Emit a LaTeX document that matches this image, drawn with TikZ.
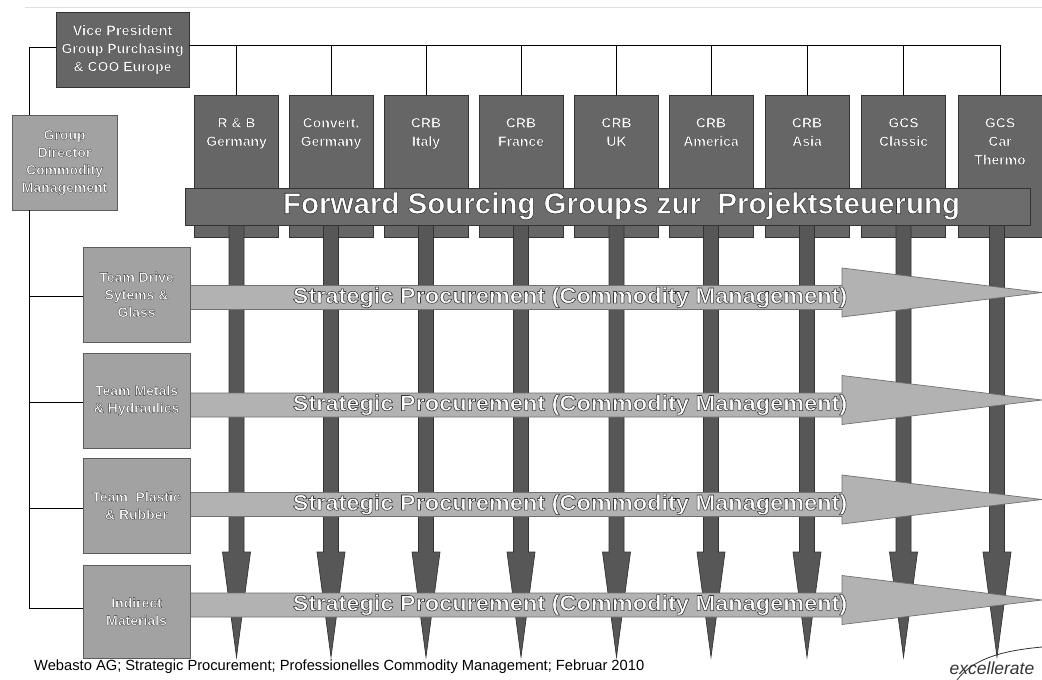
\documentclass[tikz,border=0pt]{standalone}
\usepackage{fontspec}
\setmainfont{Liberation Sans}
\definecolor{darkbox}{HTML}{666666}
\definecolor{lightbox}{HTML}{A2A2A2}
\definecolor{bandc}{HTML}{6C6C6C}
\definecolor{harrowc}{HTML}{B2B2B2}
\definecolor{varrowc}{HTML}{575757}
\definecolor{edgec}{HTML}{333333}
% outlined white text: fill + stroke render mode
\newcommand{\ol}[1]{{\special{pdf:literal direct 2 Tr 0.3 w 0.2 G}#1\special{pdf:literal direct 0 Tr}}}
\newcommand{\olb}[1]{{\special{pdf:literal direct 2 Tr 0.55 w 0.2 G}#1\special{pdf:literal direct 0 Tr}}}
\tikzset{
  dbox/.style={draw=edgec, line width=0.8pt, fill=darkbox, text=white, font=\bfseries\fontsize{14}{18}\selectfont, align=center, inner sep=0pt},
  lbox/.style={draw=edgec!80, line width=0.8pt, fill=lightbox, text=white, font=\bfseries\fontsize{14}{17.5}\selectfont, align=center, inner sep=0pt},
  coltext/.style={text=white, font=\bfseries\fontsize{14}{18.5}\selectfont, align=center, inner sep=0pt},
  conn/.style={draw=black, line width=0.9pt},
  varrow/.style={fill=varrowc, draw=edgec, line width=0.7pt},
  harrow/.style={fill=harrowc, draw=edgec!70, line width=0.7pt},
}
\begin{document}
\begin{tikzpicture}[x=1pt,y=-1pt]
\useasboundingbox (0,0) rectangle (1042,680);
\fill[white] (0,0) rectangle (1042,680);
% faint header line
\draw[black!12, line width=0.8pt] (25,7) -- (1042,7);

% top nodes
\node[dbox, minimum width=133pt, minimum height=75pt] (vp) at (122.5,49.5)
  {\fontsize{14.5}{20}\selectfont\ol{Vice President}\\\ol{Group Purchasing}\\\ol{\& COO Europe}};
\node[lbox, minimum width=105pt, minimum height=95pt] (gd) at (64.5,162.5)
  {\ol{Group}\\\ol{Director}\\\ol{Commodity}\\\ol{Management}};

\coordinate (spine) at (29,0);
\coordinate (bus) at (0,45);

% column boxes
\foreach \i/\x/\t in {
  1/236.5/{\ol{R \& B}\\\ol{Germany}},
  2/331/{\ol{Convert.}\\\ol{Germany}},
  3/426/{\ol{CRB}\\\ol{Italy}},
  4/521/{\ol{CRB}\\\ol{France}},
  5/616.5/{\ol{CRB}\\\ol{UK}},
  6/711/{\ol{CRB}\\\ol{America}},
  7/807/{\ol{CRB}\\\ol{Asia}},
  8/903.5/{\ol{GCS}\\\ol{Classic}},
  9/1000/{\ol{GCS}\\\ol{Car}\\\ol{Thermo}}}{
  \node[dbox, minimum width=84pt, minimum height=142pt] (c\i) at (\x,166) {};
  \node[coltext, anchor=north] (c\i t) at ([yshift=-23pt]c\i.north) {\t};
}

% connectors
\draw[conn] (vp.west |- 0,47) -| (gd.north -| spine);
\draw[conn] (gd.south -| spine) -- (spine |- 0,608);
\draw[conn] (vp.east |- bus) -| (c9.north);
\foreach \i in {1,...,8}{
  \draw[conn] (c\i.north) -- (c\i.north |- bus);
}

% vertical arrows
\foreach \x in {236.5,331,426,521,616.5,711,807,903.5,997}{
  \draw[varrow] (\x-7.5,222) -- (\x+7.5,222) -- (\x+7.5,552) -- (\x+14,552)
     -- (\x,657) -- (\x-14,552) -- (\x-7.5,552) -- cycle;
}

% band
\node[draw=edgec, line width=0.8pt, fill=bandc, minimum width=845pt, minimum height=37pt, inner sep=0pt] (band) at (607.5,206.5) {};
\node[text=white, font=\bfseries\fontsize{29.5}{31}\selectfont, inner sep=0pt] (fsg) at (621.5,206)
  {\olb{Forward Sourcing Groups zur\ \ Projektsteuerung}};

% team boxes and horizontal arrows
\foreach \i/\c in {1/297.5,2/405,3/504.5,4/605}{
  \draw[harrow] (190,\c-12) -- (842,\c-12) -- (842,\c-29.5) -- (1042,\c-5)
     -- (842,\c+19.5) -- (842,\c+12) -- (190,\c+12) -- cycle;
  \node[text=white, font=\bfseries\fontsize{22}{24}\selectfont, inner sep=0pt] (sp\i) at (570,\c)
     {\scalebox{1.07}[1]{\olb{Strategic Procurement (Commodity Management)}}};
}
\node[lbox, minimum width=107pt, minimum height=95pt] (t1) at (136.5,294.5)
  {\ol{Team Drive}\\\ol{Sytems \&}\\\ol{Glass}};
\node[lbox, minimum width=107pt, minimum height=95pt] (t2) at (136.5,400.5)
  {\ol{Team Metals}\\\ol{\& Hydraulics}};
\node[lbox, minimum width=107pt, minimum height=95pt] (t3) at (136.5,505.5)
  {\ol{Team\ \ Plastic}\\\ol{\& Rubber}};
\node[lbox, minimum width=107pt, minimum height=93pt] (t4) at (136.5,611.5)
  {\ol{Indirect}\\\ol{Materials}};
\foreach \i/\yy in {1/296,2/402,3/508,4/608}{
  \draw[conn] (spine |- 0,\yy) -- (t\i.west |- 0,\yy);
}

% footer
\node[anchor=west, font=\fontsize{14.7}{16}\selectfont, inner sep=0pt] (foot) at (34,667)
  {Webasto AG; Strategic Procurement; Professionelles Commodity Management; Februar 2010};
\node[font=\itshape\fontsize{17.5}{19}\selectfont, inner sep=0pt, text=black!80] (logo) at (992,668) {excellerate};
\draw[black!80, line width=0.8pt] (957,680) .. controls (975,656) and (1010,650) .. (1042,647);
\end{tikzpicture}
\end{document}
